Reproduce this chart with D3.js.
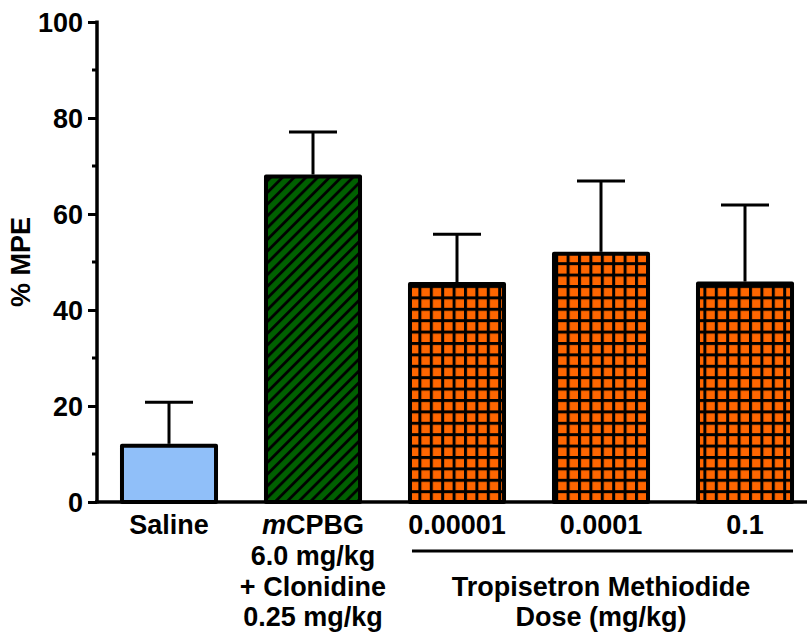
<!DOCTYPE html>
<html><head><meta charset="utf-8">
<script src="https://cdn.jsdelivr.net/npm/d3@7"></script>
<style>body{margin:0;background:#fff}svg{display:block}text{font-family:"Liberation Sans",Arial,sans-serif;font-weight:bold;fill:#000}</style>
</head><body><script>
const categories = ["Saline","mCPBG","0.00001","0.0001","0.1"];
const means = [11.7, 67.8, 45.4, 51.7, 45.5];
const errors = [9.1, 9.3, 10.4, 15.2, 16.4];
const fills = ["blue","green","grid","grid","grid"];
const yTicks = [0,20,40,60,80,100];
const yMinorTicks = [10,30,50,70,90];
const mcpbgLines = ["6.0 mg/kg","+ Clonidine","0.25 mg/kg"];
const groupTitle = ["Tropisetron Methiodide","Dose (mg/kg)"];

const W=807,H=632;
const svg=d3.select("body").append("svg").attr("width",W).attr("height",H);
const defs=svg.append("defs");
const hatch=defs.append("pattern").attr("id","hatch").attr("patternUnits","userSpaceOnUse")
  .attr("width",8.3).attr("height",8.3).attr("patternTransform","rotate(45)");
hatch.append("rect").attr("width",8.3).attr("height",8.3).attr("fill","#006000");
hatch.append("line").attr("x1",1.5).attr("x2",1.5).attr("y1",0).attr("y2",8.3).attr("stroke","#000").attr("stroke-width",2.8);
const grid=defs.append("pattern").attr("id","grid").attr("patternUnits","userSpaceOnUse")
  .attr("width",11.4).attr("height",11.4).attr("x",122).attr("y",0);
grid.append("rect").attr("width",11.4).attr("height",11.4).attr("fill","#000");
grid.append("rect").attr("x",3).attr("y",3).attr("width",8.4).attr("height",8.4).attr("fill","#FF6600");
const fillMap={blue:"#90BFF9",green:"url(#hatch)",grid:"url(#grid)"};

const x=d3.scaleBand().domain(categories).range([97,817]).paddingInner(0.347).paddingOuter(0.1735);
const y=d3.scaleLinear().domain([0,100]).range([502,22]);

// bars
svg.selectAll("rect.bar").data(categories).join("rect").attr("class","bar")
  .attr("x",d=>x(d)).attr("width",x.bandwidth())
  .attr("y",(d,i)=>y(means[i])).attr("height",(d,i)=>y(0)-y(means[i]))
  .attr("fill",(d,i)=>fillMap[fills[i]]).attr("stroke","#000").attr("stroke-width",4).attr("stroke-linejoin","round");
// error bars
const eb=svg.selectAll("g.eb").data(categories).join("g").attr("class","eb");
eb.append("line").attr("x1",d=>x(d)+x.bandwidth()/2).attr("x2",d=>x(d)+x.bandwidth()/2)
  .attr("y1",(d,i)=>y(means[i])-2).attr("y2",(d,i)=>y(means[i]+errors[i])).attr("stroke","#000").attr("stroke-width",3);
eb.append("line").attr("x1",d=>x(d)+x.bandwidth()/2-24).attr("x2",d=>x(d)+x.bandwidth()/2+24)
  .attr("y1",(d,i)=>y(means[i]+errors[i])).attr("y2",(d,i)=>y(means[i]+errors[i])).attr("stroke","#000").attr("stroke-width",3);

// y axis
const ya=svg.append("g").attr("transform","translate(97,0)");
ya.call(d3.axisLeft(y).tickValues(yTicks).tickSize(9).tickPadding(5));
ya.select(".domain").attr("stroke-width",3.5).attr("d",`M0,${y(100)-1.5}V${y(0)+1.5}`);
ya.selectAll(".tick line").attr("stroke-width",3);
ya.selectAll(".tick text").attr("font-size",27).attr("font-family","Liberation Sans, Arial").attr("font-weight","bold").attr("dy","0.36em");
ya.selectAll(".minor").data(yMinorTicks).join("line").attr("class","minor")
  .attr("x1",-5).attr("x2",0).attr("y1",d=>y(d)).attr("y2",d=>y(d)).attr("stroke","#000").attr("stroke-width",3);
// x axis line
svg.append("line").attr("x1",95).attr("x2",W).attr("y1",y(0)).attr("y2",y(0)).attr("stroke","#000").attr("stroke-width",3.5);

// y title
svg.append("text").attr("transform",`translate(30,${(y(0)+y(100))/2}) rotate(-90)`).attr("text-anchor","middle")
  .attr("font-size",27).text("% MPE");

// category labels
categories.forEach((c,i)=>{
  const cx=x(c)+x.bandwidth()/2;
  const t=svg.append("text").attr("x",cx).attr("y",534).attr("text-anchor","middle").attr("font-size",27);
  if(c==="mCPBG"){t.append("tspan").attr("font-style","italic").text("m");t.append("tspan").text("CPBG");
    mcpbgLines.forEach((l,j)=>svg.append("text").attr("x",cx).attr("y",565+30.5*j).attr("text-anchor","middle").attr("font-size",27).text(l));
  } else t.text(c);
});
// group line
const gx1=x(categories[2]), gx2=x(categories[4])+x.bandwidth();
svg.append("line").attr("x1",gx1+2).attr("x2",gx2+1).attr("y1",551).attr("y2",551).attr("stroke","#000").attr("stroke-width",3);
groupTitle.forEach((l,j)=>svg.append("text").attr("x",(gx1+gx2)/2).attr("y",596+30*j).attr("text-anchor","middle").attr("font-size",27).text(l));
</script></body></html>
